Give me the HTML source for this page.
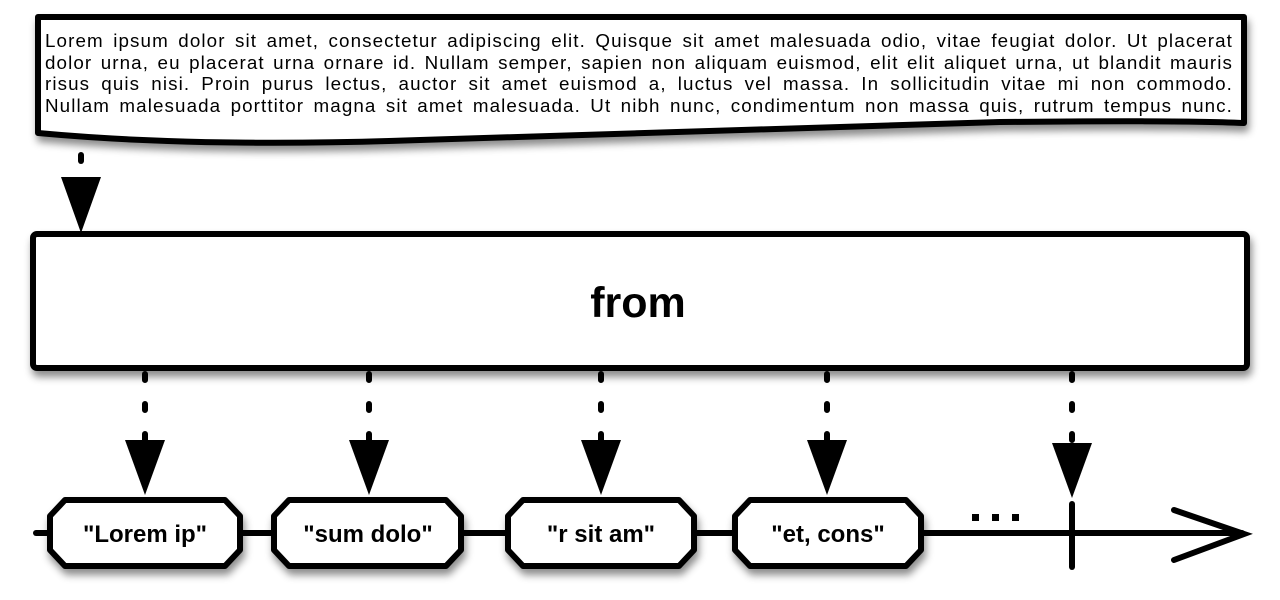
<!DOCTYPE html>
<html><head><style>
body{margin:0;background:#fff;width:1280px;height:600px;overflow:hidden;position:relative;font-family:"Liberation Sans",Arial,sans-serif}
.txt{position:absolute;left:45px;top:30px;width:1188px;font-size:18.8px;letter-spacing:1.1px;line-height:21.7px;color:#000}
.txt div{text-align:justify;text-align-last:justify;white-space:nowrap}
</style></head><body>
<svg width="1280" height="600" style="position:absolute;left:0;top:0">
<defs><filter id="sh" x="-5%" y="-20%" width="110%" height="150%"><feDropShadow dx="2" dy="6" stdDeviation="4" flood-color="#000" flood-opacity="0.45"/></filter></defs>
<path d="M38,17 L1244,17 L1244,123 Q1180,120 1000,122 Q640,132 420,140 Q200,148 38,133 Z" fill="#fff" stroke="#000" stroke-width="6" stroke-linejoin="round" filter="url(#sh)"/>
<rect x="33" y="234" width="1214" height="134" rx="4" fill="#fff" stroke="#000" stroke-width="6" filter="url(#sh)"/>
<text x="638" y="317" font-size="43" font-weight="bold" text-anchor="middle" font-family="Liberation Sans,Arial,sans-serif">from</text>
<g stroke="#000" stroke-width="6" stroke-linecap="round">
<line x1="81" y1="155" x2="81" y2="161"/>
<line x1="36" y1="533" x2="1242" y2="533"/>
<polyline points="1174,510 1244,534 1174,560" fill="none"/>
<line x1="1072" y1="504" x2="1072" y2="567"/>
</g>
<g stroke="#000" stroke-width="6" stroke-linecap="round" stroke-dasharray="6,24">
<line x1="145" y1="374" x2="145" y2="440"/>
<line x1="369" y1="374" x2="369" y2="440"/>
<line x1="601" y1="374" x2="601" y2="440"/>
<line x1="827" y1="374" x2="827" y2="440"/>
<line x1="1072" y1="374" x2="1072" y2="440"/>
</g>
<g fill="#000">
<polygon points="61,177 101,177 81,233"/>
<polygon points="125,440 165,440 145,495"/>
<polygon points="349,440 389,440 369,495"/>
<polygon points="581,440 621,440 601,495"/>
<polygon points="807,440 847,440 827,495"/>
<polygon points="1052,443 1092,443 1072,498"/>
<rect x="972" y="514" width="7" height="7"/><rect x="992" y="514" width="7" height="7"/><rect x="1012" y="514" width="7" height="7"/>
</g>
<g fill="#fff" stroke="#000" stroke-width="6" stroke-linejoin="round" filter="url(#sh)">
<polygon points="65,500 225,500 240,516 240,550 225,566 65,566 50,550 50,516"/>
<polygon points="289,500 446,500 461,516 461,550 446,566 289,566 274,550 274,516"/>
<polygon points="523,500 679,500 694,516 694,550 679,566 523,566 508,550 508,516"/>
<polygon points="750,500 906,500 921,516 921,550 906,566 750,566 735,550 735,516"/>
</g>
<g font-size="24" font-weight="bold" text-anchor="middle" font-family="Liberation Sans,Arial,sans-serif">
<text x="145" y="542">"Lorem ip"</text>
<text x="368" y="542">"sum dolo"</text>
<text x="601" y="542">"r sit am"</text>
<text x="828" y="542">"et, cons"</text>
</g>
</svg>
<div class="txt">
<div>Lorem ipsum dolor sit amet, consectetur adipiscing elit. Quisque sit amet malesuada odio, vitae feugiat dolor. Ut placerat</div>
<div>dolor urna, eu placerat urna ornare id. Nullam semper, sapien non aliquam euismod, elit elit aliquet urna, ut blandit mauris</div>
<div>risus quis nisi. Proin purus lectus, auctor sit amet euismod a, luctus vel massa. In sollicitudin vitae mi non commodo.</div>
<div>Nullam malesuada porttitor magna sit amet malesuada. Ut nibh nunc, condimentum non massa quis, rutrum tempus nunc.</div>
</div>
</body></html>
